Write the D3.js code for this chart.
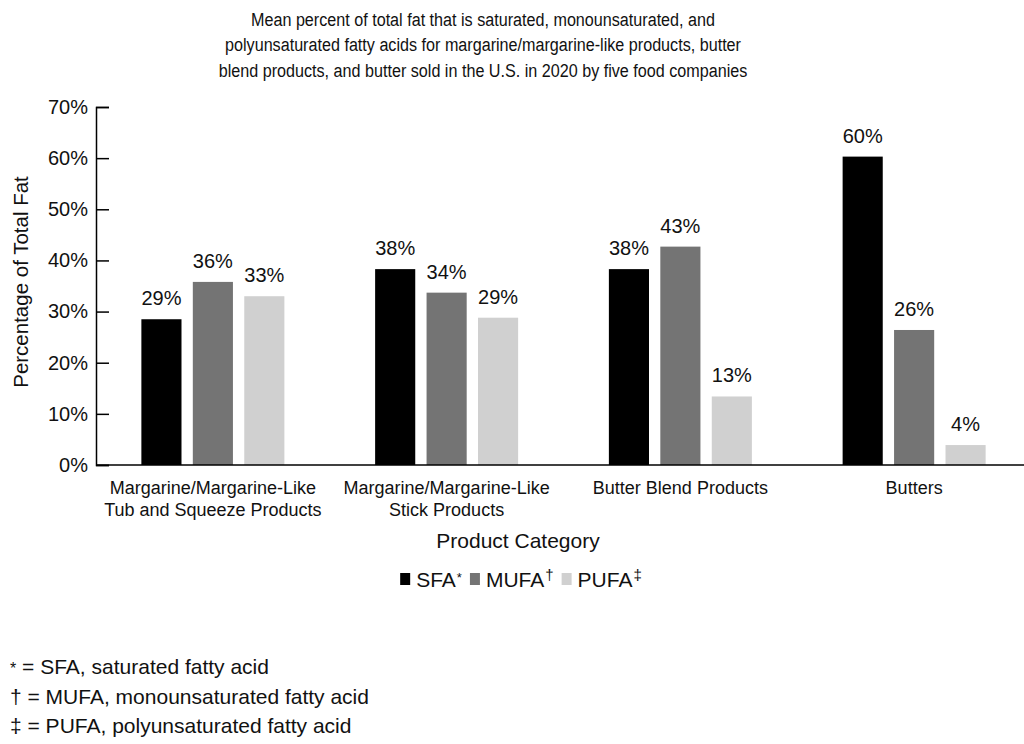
<!DOCTYPE html>
<html>
<head>
<meta charset="utf-8">
<script src="https://cdn.jsdelivr.net/npm/d3@7"></script>
<style>
  body { margin: 0; background: #fff; }
  svg { display: block; font-family: "Liberation Sans", Arial, sans-serif; }
</style>
</head>
<body>
<div id="chart"></div>
<script>
// data
const categories = [
    ["Margarine/Margarine-Like", "Tub and Squeeze Products"],
    ["Margarine/Margarine-Like", "Stick Products"],
    ["Butter Blend Products"],
    ["Butters"]
];
const seriesNames = ["SFA", "MUFA", "PUFA"];
const seriesMarks = ["*", "\u2020", "\u2021"];
const sfa = [28.5, 38.3, 38.3, 60.3];
const mufa = [35.8, 33.7, 42.7, 26.4];
const pufa = [33.0, 28.8, 13.4, 3.9];
const yTicks = [0, 10, 20, 30, 40, 50, 60, 70];
const titleLines = [
    "Mean percent of total fat that is saturated, monounsaturated, and",
    "polyunsaturated fatty acids for margarine/margarine-like products, butter",
    "blend products, and butter sold in the U.S. in 2020 by five food companies"
];
const footnotes = [
    ["*", " = SFA, saturated fatty acid"],
    ["\u2020", " = MUFA, monounsaturated fatty acid"],
    ["\u2021", " = PUFA, polyunsaturated fatty acid"]
];

const colors = ["#000000", "#747474", "#d0d0d0"];
const values = [sfa, mufa, pufa];

const width = 1024;
const height = 744;
const margin = {top: 107, left: 96, bottom: 465};

const svg = d3.select("#chart")
    .append("svg")
    .attr("width", width)
    .attr("height", height);

// title (narrow face in the original)
svg.append("g")
    .attr("transform", "translate(483,0) scale(0.85,1)")
    .selectAll("text")
    .data(titleLines)
    .join("text")
    .attr("x", 0)
    .attr("y", (d, i) => 25.7 + i * 25.5)
    .attr("text-anchor", "middle")
    .attr("font-size", 19)
    .attr("fill", "#111")
    .text(d => d);

// scales
const x = d3.scaleBand()
    .domain(d3.range(categories.length))
    .range([margin.left, 1031])
    .paddingInner(0)
    .paddingOuter(0);

const y = d3.scaleLinear()
    .domain([0, 70])
    .range([margin.bottom, margin.top]);

const xs = d3.scaleBand()
    .domain(seriesNames)
    .range([x.bandwidth() / 2 - 71.5, x.bandwidth() / 2 + 71.5])
    .paddingInner(0.22)
    .paddingOuter(0);

// y axis, ticks pointing inward
const yAxis = svg.append("g")
    .attr("transform", `translate(${margin.left},0)`)
    .call(d3.axisRight(y)
        .tickValues(yTicks)
        .tickSize(13)
        .tickFormat(d => d + "%"));
yAxis.select(".domain").attr("stroke", "#000").attr("stroke-width", 1.5);
yAxis.selectAll(".tick line").attr("stroke", "#000").attr("stroke-width", 1.5);
yAxis.selectAll(".tick text")
    .attr("x", -8)
    .attr("text-anchor", "end")
    .attr("font-size", 20)
    .attr("font-family", "Liberation Sans, Arial, sans-serif")
    .attr("fill", "#111");

// bars
const groups = svg.append("g")
    .selectAll("g")
    .data(categories)
    .join("g")
    .attr("transform", (d, i) => `translate(${x(i)},0)`);

groups.each(function (c, i) {
    const g = d3.select(this);
    seriesNames.forEach((s, k) => {
        const v = values[k][i];
        g.append("rect")
            .attr("x", xs(s))
            .attr("y", y(v))
            .attr("width", xs.bandwidth())
            .attr("height", y(0) - y(v))
            .attr("fill", colors[k]);
        g.append("text")
            .attr("x", xs(s) + xs.bandwidth() / 2)
            .attr("y", y(v) - 14)
            .attr("text-anchor", "middle")
            .attr("font-size", 20)
            .attr("fill", "#111")
            .text(Math.round(v) + "%");
    });
    g.append("text")
        .attr("text-anchor", "middle")
        .attr("font-size", 18)
        .attr("fill", "#111")
        .selectAll("tspan")
        .data(c)
        .join("tspan")
        .attr("x", x.bandwidth() / 2)
        .attr("y", (d, j) => 493.5 + j * 22)
        .text(d => d);
});

// x axis line
svg.append("line")
    .attr("x1", margin.left)
    .attr("x2", width)
    .attr("y1", y(0))
    .attr("y2", y(0))
    .attr("stroke", "#000")
    .attr("stroke-width", 1.5);

// axis titles
svg.append("text")
    .attr("transform", "translate(28,282) rotate(-90)")
    .attr("text-anchor", "middle")
    .attr("font-size", 20.5)
    .attr("fill", "#111")
    .text("Percentage of Total Fat");

svg.append("text")
    .attr("x", 518)
    .attr("y", 548)
    .attr("text-anchor", "middle")
    .attr("font-size", 21)
    .attr("fill", "#111")
    .text("Product Category");

// legend: square, name, footnote mark
const legend = svg.append("g");
let cursor = 0;
seriesNames.forEach((s, k) => {
    legend.append("rect")
        .attr("x", cursor)
        .attr("y", 573)
        .attr("width", 10)
        .attr("height", 12)
        .attr("fill", colors[k]);
    cursor += 16;
    const t = legend.append("text")
        .attr("x", cursor)
        .attr("y", 587)
        .attr("font-size", 21)
        .attr("fill", "#111")
        .text(s);
    cursor += t.node().getComputedTextLength() + 1;
    const m = legend.append("text")
        .attr("x", cursor)
        .attr("y", k === 0 ? 582 : 580)
        .attr("font-size", k === 0 ? 13 : 15)
        .attr("fill", "#111")
        .text(seriesMarks[k]);
    cursor += m.node().getComputedTextLength() + 8;
});
const legendWidth = cursor - 8;
legend.attr("transform", `translate(${521 - legendWidth / 2},0)`);

// footnotes
svg.append("g")
    .selectAll("text")
    .data(footnotes)
    .join("text")
    .attr("x", 10)
    .attr("y", (d, i) => 674 + i * 29.6)
    .attr("font-size", 21)
    .attr("fill", "#111")
    .each(function (d, i) {
        d3.select(this).append("tspan")
            .attr("font-size", i === 0 ? 16 : 21)
            .text(d[0]);
        d3.select(this).append("tspan").text(d[1]);
    });
</script>
</body>
</html>
